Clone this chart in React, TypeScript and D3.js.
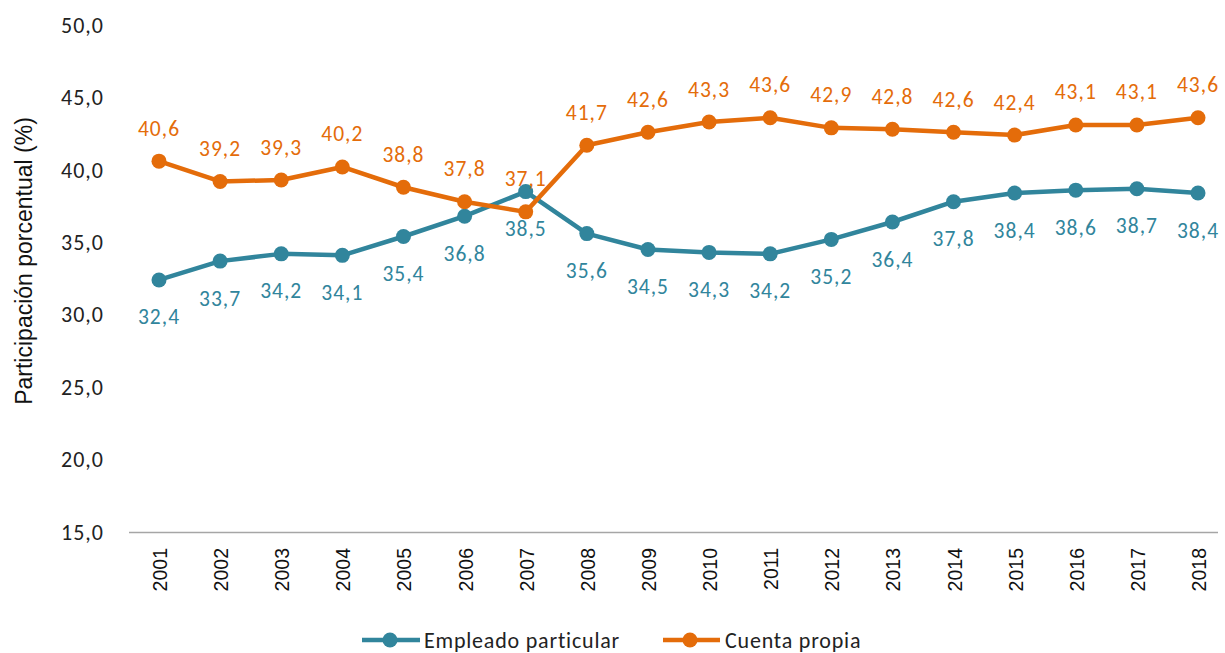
import React from "react";
import * as d3 from "d3";

const years = ["2001","2002","2003","2004","2005","2006","2007","2008","2009","2010","2011","2012","2013","2014","2015","2016","2017","2018"];
const empleado = [32.4,33.7,34.2,34.1,35.4,36.8,38.5,35.6,34.5,34.3,34.2,35.2,36.4,37.8,38.4,38.6,38.7,38.4];
const cuenta = [40.6,39.2,39.3,40.2,38.8,37.8,37.1,41.7,42.6,43.3,43.6,42.9,42.8,42.6,42.4,43.1,43.1,43.6];
const yTicks = [15,20,25,30,35,40,45,50];

const BLUE = "#31859C";
const ORANGE = "#E46C0A";
const fmt = (v: number) => v.toFixed(1).replace(".", ",");

export default function App() {
  const width = 1225;
  const height = 653;
  const left = 129;
  const top = 25;
  const bottom = 532;

  const x = d3.scalePoint<string>().domain(years).range([159, 1198]);
  const y = d3.scaleLinear().domain([15, 50]).range([bottom, top]);

  const line = d3
    .line<number>()
    .x((_, i) => x(years[i]) as number)
    .y((d) => y(d));

  const font = "Calibri, Carlito, Lato, 'Open Sans', sans-serif";
  const arial = "'Liberation Sans', Arial, sans-serif";

  return (
    <svg width={width} height={height} style={{ position: "absolute", left: 0, top: 0 }}>
      {/* y axis labels */}
      {yTicks.map((t) => (
        <text key={t} x={104} y={y(t)} dy="0.35em" textAnchor="end" fontFamily={font} fontSize={22} letterSpacing={1} fill="#222">
          {fmt(t)}
        </text>
      ))}
      <text
        transform={`translate(32, 261) rotate(-90)`}
        textAnchor="middle"
        fontFamily={arial}
        fontSize={23}
        fill="#111"
      >
        Participación porcentual (%)
      </text>

      {/* x axis */}
      <line x1={left} x2={1218} y1={bottom + 0.5} y2={bottom + 0.5} stroke="#a6a6a6" strokeWidth={1.5} />
      {years.map((yr) => (
        <text
          key={yr}
          transform={`translate(${(x(yr) as number) + 8}, 548) rotate(-90)`}
          textAnchor="end"
          fontFamily={arial}
          fontSize={19.5}
          fill="#111"
        >
          {yr}
        </text>
      ))}

      {/* series */}
      <path d={line(empleado) || ""} fill="none" stroke={BLUE} strokeWidth={4.5} strokeLinejoin="round" />
      <path d={line(cuenta) || ""} fill="none" stroke={ORANGE} strokeWidth={4.5} strokeLinejoin="round" />
      {empleado.map((v, i) => (
        <circle key={"b" + i} cx={x(years[i])} cy={y(v)} r={7.5} fill={BLUE} />
      ))}
      {cuenta.map((v, i) => (
        <circle key={"o" + i} cx={x(years[i])} cy={y(v)} r={7.5} fill={ORANGE} />
      ))}
      {empleado.map((v, i) => (
        <text key={"bl" + i} x={x(years[i])} y={y(v) + 37} dy="0.35em" textAnchor="middle" fontFamily={font} fontSize={21.5} letterSpacing={1} fill={BLUE}>
          {fmt(v)}
        </text>
      ))}
      {cuenta.map((v, i) => (
        <text key={"ol" + i} x={x(years[i])} y={y(v) - 33} dy="0.35em" textAnchor="middle" fontFamily={font} fontSize={21.5} letterSpacing={1} fill={ORANGE}>
          {fmt(v)}
        </text>
      ))}

      {/* legend */}
      <g>
        <line x1={362} x2={420} y1={640} y2={640} stroke={BLUE} strokeWidth={4.5} />
        <circle cx={390} cy={640} r={7.5} fill={BLUE} />
        <text x={424} y={640} dy="0.35em" fontFamily={font} fontSize={22} letterSpacing={0.8} fill="#222">Empleado particular</text>
        <line x1={663} x2={720} y1={640} y2={640} stroke={ORANGE} strokeWidth={4.5} />
        <circle cx={690} cy={640} r={7.5} fill={ORANGE} />
        <text x={725} y={640} dy="0.35em" fontFamily={font} fontSize={22} letterSpacing={0.8} fill="#222">Cuenta propia</text>
      </g>
    </svg>
  );
}
